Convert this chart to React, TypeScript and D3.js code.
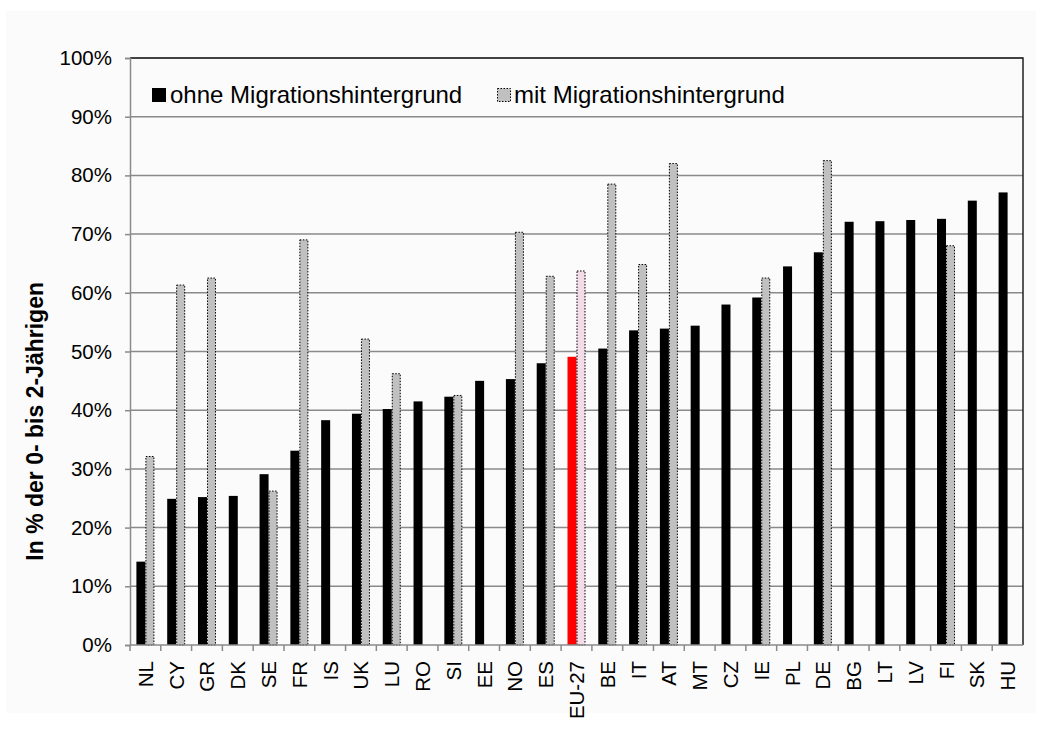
import * as React from "react";
import * as d3 from "d3";

const countries = ["NL", "CY", "GR", "DK", "SE", "FR", "IS", "UK", "LU", "RO", "SI", "EE", "NO", "ES", "EU-27", "BE", "IT", "AT", "MT", "CZ", "IE", "PL", "DE", "BG", "LT", "LV", "FI", "SK", "HU"];
const ohneMigration = [14.2, 24.9, 25.2, 25.4, 29.1, 33.1, 38.3, 39.4, 40.2, 41.5, 42.3, 45.0, 45.3, 48.0, 49.1, 50.5, 53.6, 53.9, 54.4, 58.0, 59.2, 64.5, 66.9, 72.1, 72.2, 72.4, 72.6, 75.7, 77.1];
const mitMigration = [32.2, 61.4, 62.6, null, 26.3, 69.1, null, 52.2, 46.3, null, 42.6, null, 70.4, 62.9, 63.8, 78.6, 64.9, 82.1, null, null, 62.6, null, 82.6, null, null, null, 68.1, null, null];
const yTicks = [0, 10, 20, 30, 40, 50, 60, 70, 80, 90, 100];
const seriesNames = ["ohne Migrationshintergrund", "mit Migrationshintergrund"];
const highlight = "EU-27";

export default function App() {
  const ref = React.useRef<SVGSVGElement>(null);

  React.useEffect(() => {
    const svg = d3.select(ref.current);
    svg.selectAll("*").remove();

    let font = "Liberation Sans, Arial, sans-serif";
    let margin = { top: 58, right: 1023, bottom: 645, left: 130 };
    let barW = 9;

    svg.append("rect").attr("x", 6).attr("y", 11).attr("width", 1030).attr("height", 702).attr("fill", "#fbfbfb");

    let x = d3.scaleBand().domain(countries).range([margin.left, margin.right]);
    let y = d3.scaleLinear().domain([0, 100]).range([margin.bottom, margin.top]);

    // gridlines
    svg
      .append("g")
      .selectAll("line")
      .data(yTicks.slice(1))
      .enter()
      .append("line")
      .attr("x1", margin.left)
      .attr("x2", margin.right)
      .attr("y1", (d) => y(d))
      .attr("y2", (d) => y(d))
      .attr("stroke", "#8a8a8a")
      .attr("stroke-width", 1.5);

    // top + right frame
    svg
      .append("path")
      .attr("d", `M${margin.left},${margin.top}H${margin.right}V${margin.bottom}`)
      .attr("fill", "none")
      .attr("stroke", "#222")
      .attr("stroke-width", 1.5);

    let bars = svg.append("g");
    countries.forEach((c, i) => {
      let x0 = x(c)! + x.bandwidth() / 2 - barW;
      bars
        .append("rect")
        .attr("x", x0)
        .attr("y", y(ohneMigration[i]))
        .attr("width", barW)
        .attr("height", y(0) - y(ohneMigration[i]))
        .attr("fill", c === highlight ? "#ff0000" : "#000");
      let v = mitMigration[i];
      if (v != null) {
        bars
          .append("rect")
          .attr("x", x0 + barW + 0.5)
          .attr("y", y(v) + 0.5)
          .attr("width", barW - 1)
          .attr("height", y(0) - y(v) - 0.5)
          .attr("fill", c === highlight ? "#f3dce8" : "#c0c0c0")
          .attr("stroke", "#000")
          .attr("stroke-width", 1)
          .attr("stroke-dasharray", "1.5,1.5");
      }
    });

    // y axis
    let yAxis = svg
      .append("g")
      .attr("transform", `translate(${margin.left},0)`)
      .call(d3.axisLeft(y).tickValues(yTicks).tickSize(5).tickPadding(13).tickFormat((d) => d + "%"));
    yAxis.select(".domain").attr("stroke", "#8a8a8a").attr("stroke-width", 1.5);
    yAxis.selectAll(".tick line").attr("stroke", "#8a8a8a").attr("stroke-width", 1.5);
    yAxis.selectAll(".tick text").attr("font-family", font).attr("font-size", "20.5px").attr("fill", "#000");

    // x axis
    let xAxisG = svg.append("g");
    xAxisG
      .append("line")
      .attr("x1", margin.left)
      .attr("x2", margin.right)
      .attr("y1", y(0))
      .attr("y2", y(0))
      .attr("stroke", "#8a8a8a")
      .attr("stroke-width", 1.5);
    xAxisG
      .selectAll(".xt")
      .data(countries)
      .enter()
      .append("line")
      .attr("x1", (d) => x(d)!)
      .attr("x2", (d) => x(d)!)
      .attr("y1", y(0))
      .attr("y2", y(0) + 6)
      .attr("stroke", "#8a8a8a")
      .attr("stroke-width", 1.5);
    xAxisG
      .selectAll("text")
      .data(countries)
      .enter()
      .append("text")
      .text((d) => d)
      .attr("transform", (d) => `translate(${x(d)! + x.bandwidth() / 2 + 7.5},${y(0) + 16}) rotate(-90)`)
      .attr("text-anchor", "end")
      .attr("font-family", font)
      .attr("font-size", "20.5px")
      .attr("fill", "#000");

    // y title
    svg
      .append("text")
      .text("In % der 0- bis 2-Jährigen")
      .attr("transform", `translate(43,282) rotate(-90)`)
      .attr("text-anchor", "end")
      .attr("font-family", font)
      .attr("font-size", "23px")
      .attr("font-weight", "bold")
      .attr("fill", "#000");

    // legend
    let legend = svg.append("g");
    legend.append("rect").attr("x", 152).attr("y", 88).attr("width", 14).attr("height", 14).attr("fill", "#000");
    legend
      .append("text")
      .text(seriesNames[0])
      .attr("x", 170)
      .attr("y", 102.5)
      .attr("font-family", font)
      .attr("font-size", "24px")
      .attr("fill", "#000");
    legend
      .append("rect")
      .attr("x", 497.5)
      .attr("y", 88.5)
      .attr("width", 13)
      .attr("height", 13)
      .attr("fill", "#c0c0c0")
      .attr("stroke", "#000")
      .attr("stroke-dasharray", "1.5,1.5");
    legend
      .append("text")
      .text(seriesNames[1])
      .attr("x", 514)
      .attr("y", 102.5)
      .attr("font-family", font)
      .attr("font-size", "24px")
      .attr("fill", "#000");
  }, []);

  return (
    <svg
      ref={ref}
      width={1042}
      height={742}
      style={{ position: "absolute", left: 0, top: 0, background: "#fff" }}
    />
  );
}
